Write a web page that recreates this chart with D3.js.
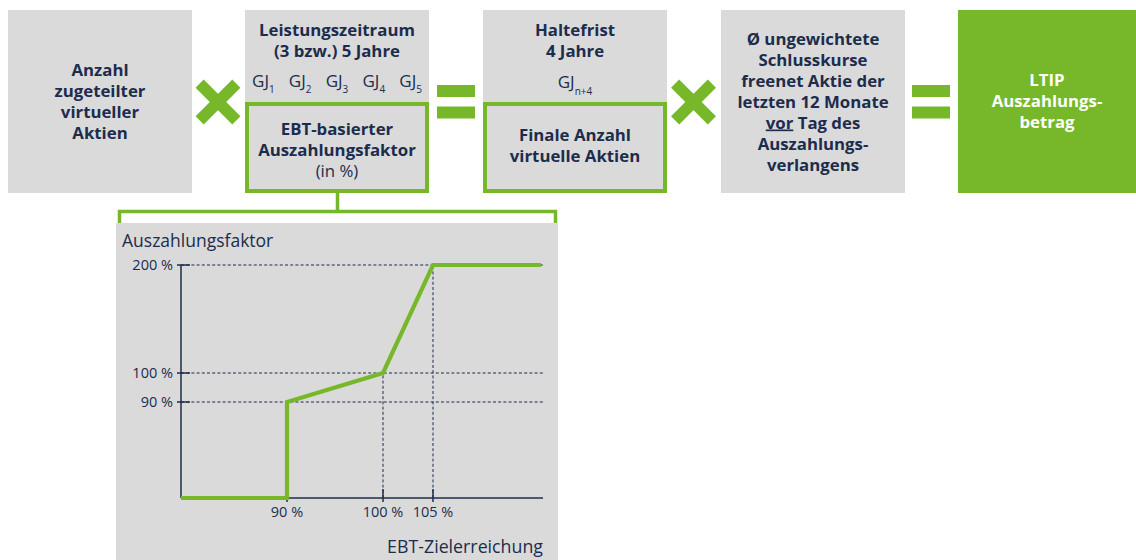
<!DOCTYPE html>
<html>
<head>
<meta charset="utf-8">
<script src="https://cdn.jsdelivr.net/npm/d3@7/dist/d3.min.js"></script>
<style>
  html, body { margin: 0; padding: 0; background: #ffffff; }
  svg { display: block; }
  text { font-family: "Open Sans", "Noto Sans", sans-serif; }
</style>
</head>
<body>
<svg id="chart" width="1136" height="560"></svg>
<script>
// ---------- data ----------
const zielerreichung = [80, 90, 90, 100, 105, 115.8];       // EBT-Zielerreichung (%)
const auszahlungsfaktor = [0, 0, 90, 100, 200, 200];        // Auszahlungsfaktor (%)
const xTickValues = [90, 100, 105];
const xTickLabels = ["90 %", "100 %", "105 %"];
const yTickValues = [90, 100, 200];
const yTickLabels = ["90 %", "100 %", "200 %"];
const xDomainStops = [80, 90, 100, 105, 116];
const yDomainStops = [0, 90, 100, 200];
const yAxisTitle = "Auszahlungsfaktor";
const xAxisTitle = "EBT-Zielerreichung";
const gjYears = ["1", "2", "3", "4", "5"];

const box1Lines = ["Anzahl", "zugeteilter", "virtueller", "Aktien"];
const box2Head = ["Leistungszeitraum", "(3 bzw.) 5 Jahre"];
const box2Inner = ["EBT-basierter", "Auszahlungsfaktor"];
const box2InnerNote = "(in %)";
const box3Head = ["Haltefrist", "4 Jahre"];
const box3Inner = ["Finale Anzahl", "virtuelle Aktien"];
const box4Lines = ["Ø ungewichtete", "Schlusskurse", "freenet Aktie der", "letzten 12 Monate", "@vor Tag des", "Auszahlungs-", "verlangens"];
const box5Lines = ["LTIP", "Auszahlungs-", "betrag"];

// ---------- style ----------
const GREEN = "#76b82a";
const GRAY = "#dadada";
const NAVY = "#1c2c4c";

const svg = d3.select("#chart");

// ---------- top formula row ----------
const boxTop = 10, boxBottom = 193;
function grayBox(x0, x1, fill) {
  svg.append("rect").attr("x", x0).attr("y", boxTop).attr("width", x1 - x0).attr("height", boxBottom - boxTop)
    .attr("fill", fill || GRAY);
}
function greenOutline(x0, x1, y0) {
  svg.append("rect").attr("x", x0 + 2).attr("y", y0 + 2).attr("width", x1 - x0 - 4).attr("height", boxBottom - y0 - 4)
    .attr("fill", "none").attr("stroke", GREEN).attr("stroke-width", 4);
}
function lines(arr, cx, y0, dy, opts) {
  opts = opts || {};
  arr.forEach((s, i) => {
    const t = svg.append("text").attr("x", cx).attr("y", y0 + i * dy)
      .attr("text-anchor", "middle")
      .attr("font-size", opts.size || 16.8)
      .attr("font-weight", opts.weight || 700)
      .attr("fill", opts.fill || NAVY);
    if (s.startsWith("@")) {
      const parts = s.slice(1).split(" ");
      t.append("tspan").attr("text-decoration", "underline").style("text-decoration", "underline").text(parts[0]);
      t.append("tspan").text(" " + parts.slice(1).join(" "));
    } else {
      t.text(s);
    }
  });
}
function cross(cx, cy) {
  const g = svg.append("g").attr("transform", `translate(${cx},${cy}) rotate(45)`);
  const L = 52, W = 11.5;
  g.append("rect").attr("x", -L / 2).attr("y", -W / 2).attr("width", L).attr("height", W).attr("fill", GREEN);
  g.append("rect").attr("x", -W / 2).attr("y", -L / 2).attr("width", W).attr("height", L).attr("fill", GREEN);
}
function equals(x0, x1) {
  svg.append("rect").attr("x", x0).attr("y", 85).attr("width", x1 - x0).attr("height", 12).attr("fill", GREEN);
  svg.append("rect").attr("x", x0).attr("y", 106.5).attr("width", x1 - x0).attr("height", 12).attr("fill", GREEN);
}

// Box 1
grayBox(8, 192);
lines(box1Lines, 100, 76, 21);
cross(218, 102);

// Box 2
grayBox(245, 429);
lines(box2Head, 337, 36, 21);
gjYears.forEach((n, i) => {
  const t = svg.append("text").attr("x", 337 + (i - 2) * 36.8).attr("y", 87)
    .attr("text-anchor", "middle").attr("font-size", 17).attr("fill", NAVY);
  t.append("tspan").text("GJ");
  t.append("tspan").attr("font-size", 10).attr("dy", 6).text(n);
});
greenOutline(245, 429, 102);
lines(box2Inner, 337, 135, 21);
lines([box2InnerNote], 337, 177, 21, { weight: 400 });
equals(437, 475);

// Box 3
grayBox(483, 667);
lines(box3Head, 575, 36, 21);
{
  const t = svg.append("text").attr("x", 575).attr("y", 88)
    .attr("text-anchor", "middle").attr("font-size", 17).attr("fill", NAVY);
  t.append("tspan").text("GJ");
  t.append("tspan").attr("font-size", 10).attr("dy", 7).text("n+4");
}
greenOutline(483, 667, 102);
lines(box3Inner, 575, 141, 21);
cross(693.5, 102);

// Box 4
grayBox(721, 905);
lines(box4Lines, 813, 44.5, 21);
equals(912, 950);

// Box 5
grayBox(958, 1136, GREEN);
lines(box5Lines, 1047, 86, 21, { fill: "#ffffff" });

// ---------- bracket ----------
svg.append("path")
  .attr("d", "M337.5,193 V211.5 M119.5,225 V211.5 H555.5 V225")
  .attr("fill", "none").attr("stroke", GREEN).attr("stroke-width", 3.5);

// ---------- chart panel ----------
svg.append("rect").attr("x", 116).attr("y", 223).attr("width", 442).attr("height", 340).attr("fill", GRAY);

const x = d3.scaleLinear().domain(xDomainStops).range([181, 287, 383, 433, 543]);
const y = d3.scaleLinear().domain(yDomainStops).range([498, 402, 373, 265]);

const xMin = xDomainStops[0], xMax = xDomainStops[xDomainStops.length - 1];

// dashed grid lines
const dash = "3,2.2";
svg.append("g").selectAll("line").data(yTickValues).join("line")
  .attr("x1", x(xMin)).attr("x2", x(xMax))
  .attr("y1", d => y(d)).attr("y2", d => y(d))
  .attr("stroke", NAVY).attr("stroke-width", 1).attr("stroke-dasharray", dash);
const vgrid = xTickValues.map(v => ({ v, top: d3.max(zielerreichung.map((z, j) => z === v ? auszahlungsfaktor[j] : 0)) }));
svg.append("g").selectAll("line").data(vgrid.filter(d => d.v !== 90)).join("line")
  .attr("x1", d => x(d.v)).attr("x2", d => x(d.v))
  .attr("y1", y(0)).attr("y2", d => y(d.top))
  .attr("stroke", NAVY).attr("stroke-width", 1).attr("stroke-dasharray", dash);

// axes
svg.append("line").attr("x1", x(xMin)).attr("x2", x(xMin)).attr("y1", y(0)).attr("y2", y(200))
  .attr("stroke", NAVY).attr("stroke-width", 1.5);
svg.append("line").attr("x1", x(xMin)).attr("x2", x(xMax)).attr("y1", y(0)).attr("y2", y(0))
  .attr("stroke", NAVY).attr("stroke-width", 1.5);

// ticks
svg.append("g").selectAll("line").data(yTickValues).join("line")
  .attr("x1", x(xMin) - 4).attr("x2", x(xMin) + 9)
  .attr("y1", d => y(d)).attr("y2", d => y(d))
  .attr("stroke", NAVY).attr("stroke-width", 1.5);
svg.append("g").selectAll("line").data(xTickValues).join("line")
  .attr("x1", d => x(d)).attr("x2", d => x(d))
  .attr("y1", y(0) - 9).attr("y2", y(0) + 4)
  .attr("stroke", NAVY).attr("stroke-width", 1.5);

// tick labels
svg.append("g").selectAll("text").data(yTickValues).join("text")
  .attr("x", x(xMin) - 8).attr("y", d => y(d) + 5)
  .attr("text-anchor", "end").attr("font-size", 14.5).attr("fill", NAVY)
  .text((d, i) => yTickLabels[i]);
svg.append("g").selectAll("text").data(xTickValues).join("text")
  .attr("x", d => x(d)).attr("y", y(0) + 18.5)
  .attr("text-anchor", "middle").attr("font-size", 14.5).attr("fill", NAVY)
  .text((d, i) => xTickLabels[i]);

// axis titles
svg.append("text").attr("x", 122).attr("y", 247).attr("font-size", 17.5).attr("fill", NAVY).text(yAxisTitle);
svg.append("text").attr("x", 543).attr("y", 553).attr("text-anchor", "end").attr("font-size", 17.8).attr("fill", NAVY).text(xAxisTitle);

// payout curve
const pts = zielerreichung.map((z, i) => [z, auszahlungsfaktor[i]]);
svg.append("path").datum(pts)
  .attr("d", d3.line().x(d => x(d[0])).y(d => y(d[1])))
  .attr("fill", "none").attr("stroke", GREEN).attr("stroke-width", 4.2)
  .attr("stroke-linejoin", "miter");
</script>
</body>
</html>
